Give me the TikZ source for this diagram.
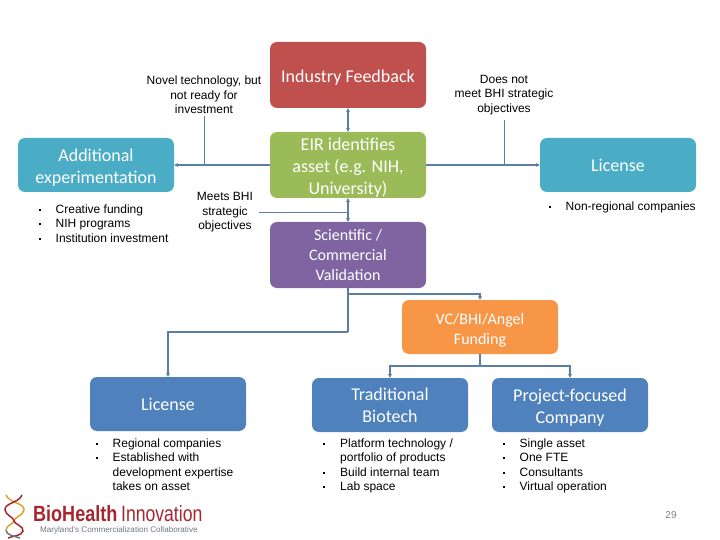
\documentclass[tikz,border=0pt]{standalone}
\usepackage{fontspec}
\setmainfont{Liberation Sans}
\newfontfamily\boxfont{Carlito}
\usepackage{tikz}
\usetikzlibrary{arrows.meta, positioning, calc}
\definecolor{RedBox}{HTML}{C0504D}
\definecolor{GreenBox}{HTML}{9BBB59}
\definecolor{PurpleBox}{HTML}{8064A2}
\definecolor{TealBox}{HTML}{4BACC6}
\definecolor{OrangeBox}{HTML}{F79646}
\definecolor{BlueBox}{HTML}{4F81BD}
\definecolor{LineBlue}{HTML}{5B7FA3}
\definecolor{LogoRed}{HTML}{A6262E}
\definecolor{LogoGold}{HTML}{D9A431}
\definecolor{LogoGray}{HTML}{6F7780}
\tikzset{
    block/.style={rectangle, draw=none, fill=#1, text=white, minimum width=156pt, minimum height=54pt, rounded corners=7pt, align=center, font=\boxfont\fontsize{18}{22}\selectfont, inner sep=0pt},
    block_tall/.style={block=#1, minimum height=66pt},
    small_text/.style={font=\boxfont\fontsize{16}{20}\selectfont},
    arr/.style={-{Stealth[length=4pt,width=4pt]}, line width=1.6pt, draw=LineBlue},
    arr_both/.style={{Stealth[length=4pt,width=4pt]}-{Stealth[length=4pt,width=4pt]}, line width=1.6pt, draw=LineBlue},
    trunk/.style={line width=1.6pt, draw=LineBlue},
    leader/.style={line width=0.7pt, draw=LineBlue},
    note/.style={font=\fontsize{12}{14.5}\selectfont, align=center, inner sep=0pt},
    bullets/.style={font=\fontsize{12}{14.5}\selectfont, align=left, anchor=north west, inner sep=0pt},
}
\newcommand{\bulletrow}[1]{\makebox[17pt][l]{\rule[2.5pt]{2pt}{2pt}}#1}
\newcommand{\toppad}{\rule{0pt}{17pt}}
\begin{document}
\begin{tikzpicture}[x=1pt, y=-1pt]
\useasboundingbox (0,0) rectangle (720,540);
% centre column
\node[block_tall=RedBox] (industry) at (348,75) {\toppad Industry Feedback};
\node[block_tall=GreenBox] (eir) at (348,165) {\toppad EIR identifies\\asset (e.g. NIH,\\University)};
\node[block_tall=PurpleBox, small_text] (validation) at (348,255) {Scientific /\\Commercial\\Validation};
% left and right
\node[block=TealBox] (additional) at (96,165) {\toppad Additional\\experimentation};
\node[block=TealBox] (license_nr) at (618,165) {License};
% funding row
\node[block=OrangeBox, small_text] (funding) at (480,327) {\toppad VC/BHI/Angel\\Funding};
\node[block=BlueBox] (license_r) at (168,404) {License};
\node[block=BlueBox] (biotech) at (390,405) {Traditional\\Biotech};
\node[block=BlueBox] (project) at (570,405) {\toppad Project-focused\\Company};

% labels
\node[note] (novel) at (204,95) {Novel technology, but\\not ready for\\investment};
\node[note] (meets) at (225,212.500) {Meets BHI\\strategic\\objectives};
\node[note] (doesnot) at (504,95) {Does not\\meet BHI strategic\\objectives};

% bullet lists
\node[bullets] (list_add) at (38.500,204.500) {\bulletrow{Creative funding}\\\bulletrow{NIH programs}\\\bulletrow{Institution investment}};
\node[bullets] (list_nr) at (548.500,201.500) {\bulletrow{Non-regional companies}};
\node[bullets] (list_r) at (95.500,438.500) {\bulletrow{Regional companies}\\\bulletrow{Established with}\\\hspace*{17pt}development expertise\\\hspace*{17pt}takes on asset};
\node[bullets] (list_bio) at (323,438.500) {\bulletrow{Platform technology /}\\\hspace*{17pt}portfolio of products\\\bulletrow{Build internal team}\\\bulletrow{Lab space}};
\node[bullets] (list_proj) at (502.500,438.500) {\bulletrow{Single asset}\\\bulletrow{One FTE}\\\bulletrow{Consultants}\\\bulletrow{Virtual operation}};

% connectors
\draw[arr_both] (industry) -- (eir);
\draw[arr_both] (eir) -- (validation);
\draw[arr] (eir) -- (additional);
\draw[arr] (eir) -- (license_nr);
\coordinate (branch_a) at ($(validation.south)+(0,6)$);
\coordinate (branch_b) at ($(validation.south)+(0,44)$);
\draw[trunk] (validation) -- (branch_b);
\draw[arr] (branch_a) -| (funding);
\draw[arr] (branch_b) -| (license_r);
\coordinate (split) at ($(funding.south)+(0,12)$);
\draw[trunk] (funding) -- (split);
\draw[arr] (split) -| (biotech);
\draw[arr] (split) -| (project);

% label leaders
\coordinate (novel_end) at (novel.south |- eir.west);
\coordinate (doesnot_end) at (doesnot.south |- eir.east);
\draw[leader] ($(novel.south)+(0,2)$) -- (novel_end);
\draw[leader] ($(doesnot.south)+(0,5)$) -- (doesnot_end);
\coordinate (meets_start) at ($(meets.east)+(6,0)$);
\coordinate (meets_end) at (meets_start -| eir.south);
\draw[leader] (meets_start) -- (meets_end);

% logo
\begin{scope}[line width=1.5pt]
\draw[LogoGold] (6,495) .. controls (9,503) and (25,503) .. (24,510) .. controls (23,516) and (14,517) .. (14,521) .. controls (14,524) and (6,525) .. (6,530);
\draw[LogoRed] (22,495) .. controls (19,503) and (4,503) .. (5,510) .. controls (6,516) and (14,517) .. (14,521) .. controls (14,524) and (24,526) .. (23,531) .. controls (22,536) and (12,536) .. (8,538);
\draw[LogoGray] (6,530) .. controls (6,535) and (14,536) .. (20,538);
\end{scope}
\node[inner sep=0pt, anchor=west, text=LogoRed, font=\bfseries\fontsize{22}{22}\selectfont, xscale=0.82] (logo_a) at (33,514) {BioHealth};
\node[inner sep=0pt, anchor=west, text=LogoRed, font=\fontsize{22}{22}\selectfont, xscale=0.80] (logo_b) at (121,514) {Innovation};
\node[inner sep=0pt, anchor=west, text=LogoGray, font=\fontsize{8.100}{8.500}\selectfont] (logo_c) at (40,530) {Maryland's Commercialization Collaborative};

% page number
\node[inner sep=0pt, text=gray, font=\fontsize{10}{12}\selectfont] (page) at (671,515) {29};
\end{tikzpicture}
\end{document}
